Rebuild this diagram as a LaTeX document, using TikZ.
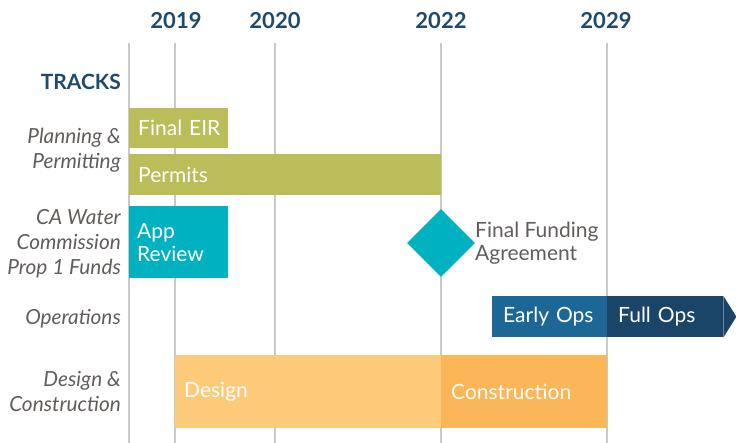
\documentclass[tikz,border=0pt]{standalone}
\usepackage{fontspec}
\setmainfont{Lato}
\usetikzlibrary{shapes.geometric,calc}
\definecolor{navy}{HTML}{1E4A6D}
\definecolor{labelgray}{HTML}{625D5A}
\definecolor{olive}{HTML}{BABD58}
\definecolor{teal2}{HTML}{00B1BF}
\definecolor{earlyblue}{HTML}{1D6796}
\definecolor{fullblue}{HTML}{1B4568}
\definecolor{designc}{HTML}{FDCA7A}
\definecolor{constrc}{HTML}{FBB658}
\definecolor{gridc}{HTML}{C9C9C9}
\tikzset{
  yearlbl/.style={font=\fontsize{22}{26}\selectfont\bfseries, text=navy, inner sep=0},
  tracklbl/.style={font=\fontsize{20.8}{25}\selectfont\itshape, text=labelgray, align=right, anchor=east, inner sep=0},
  gridline/.style={draw=gridc, line width=1.4pt},
  bar/.style={anchor=north west, inner ysep=0, text=white, align=left,
     font=\fontsize{21}{23}\selectfont},
}
\begin{document}
\begin{tikzpicture}[x=1pt,y=-1pt]
\useasboundingbox (0,0) rectangle (736,443);
\fill[white] (0,0) rectangle (736,443);
% grid line ends
\coordinate (g0t) at (129,43); \coordinate (g0b) at (129,443);
\coordinate (g1t) at (175,43); \coordinate (g1b) at (175,443);
\coordinate (g2t) at (275,43); \coordinate (g2b) at (275,443);
\coordinate (g3t) at (441,43); \coordinate (g3b) at (441,443);
\coordinate (g4t) at (607,43); \coordinate (g4b) at (607,443);
\foreach \i in {0,...,4} \draw[gridline] (g\i t) -- (g\i b);
% years
\node[yearlbl] (y2019) at (176,21) {2019};
\node[yearlbl] (y2020) at (275,21) {2020};
\node[yearlbl] (y2022) at (441,21) {2022};
\node[yearlbl] (y2029) at (606,21) {2029};
% track labels
\node[anchor=east, inner sep=0, font=\fontsize{21}{25}\selectfont\bfseries, text=navy] (tracks) at (121,82) {TRACKS};
\node[tracklbl] (tplan) at (121,150) {Planning \&\\Permitting};
\node[tracklbl] (tca) at (121,244) {CA Water\\Commission\\Prop 1 Funds};
\node[tracklbl] (tops) at (121,319) {Operations};
\node[tracklbl] (tdes) at (121,391) {Design \&\\Construction};
% bars
\node[bar, fill=olive, inner xsep=9, text width=81, minimum height=40] (eir) at (129,108) {Final~EIR};
\node[bar, fill=olive, inner xsep=9, text width=294, minimum height=41] (permits) at (129,154) {Permits};
\node[bar, fill=teal2, inner xsep=8, text width=83, minimum height=72] (app) at (129,206) {App\\Review};
\node[diamond, fill=teal2, minimum width=68, minimum height=68, inner sep=0] (ffa) at (441,243) {};
\node[anchor=west, inner sep=0, align=left, text=labelgray, font=\fontsize{21}{23}\selectfont] (ffatxt) at (475,243) {Final Funding\\Agreement};
\node[bar, fill=earlyblue, inner xsep=11, text width=93, minimum height=41] (early) at (492,296) {Early~Ops};
\node[bar, fill=fullblue, inner xsep=11, text width=94, minimum height=41] (full) at (607,296) {Full~Ops};
\fill[fullblue] (full.north east) -- ($(full.east)+(13,0)$) -- (full.south east) -- cycle;
\node[bar, fill=designc, inner xsep=9, text width=248, minimum height=73] (design) at (175,355) {Design};
\node[bar, fill=constrc, inner xsep=10, text width=146, minimum height=73] (constr) at (441,355) {Construction};
\end{tikzpicture}
\end{document}
